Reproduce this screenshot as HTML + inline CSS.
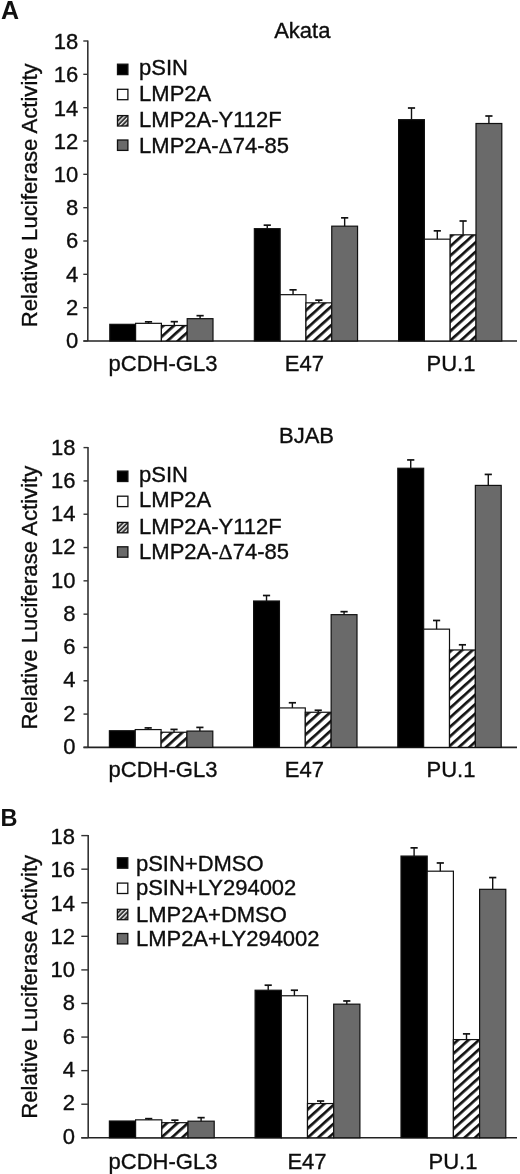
<!DOCTYPE html>
<html><head><meta charset="utf-8"><title>Luciferase activity</title>
<style>
html,body{margin:0;padding:0;background:#fff;width:520px;height:1174px;overflow:hidden}
svg{display:block}
.t{font-family:'Liberation Sans', Arial, Helvetica, sans-serif;font-size:22px;fill:#0d0d0d;stroke:#0d0d0d;stroke-width:0.35px}
.b{font-family:'Liberation Sans', Arial, Helvetica, sans-serif;font-weight:bold;fill:#111}
</style></head><body>
<svg width="520" height="1174" viewBox="0 0 520 1174">
<defs>
<pattern id="hatch" patternUnits="userSpaceOnUse" width="7.0" height="7.0" patternTransform="rotate(48)">
<rect width="7.0" height="7.0" fill="#fff"/><rect x="0" y="0" width="2.7" height="7.0" fill="#111"/>
</pattern>
<pattern id="hatchs" patternUnits="userSpaceOnUse" width="3.2" height="3.2" patternTransform="rotate(45)">
<rect width="3.2" height="3.2" fill="#333"/><rect x="0" y="0" width="1.3" height="3.2" fill="#eee"/>
</pattern>
</defs>
<rect width="520" height="1174" fill="#fff"/>
<line x1="87.8" y1="40.50" x2="87.8" y2="341.00" stroke="#333" stroke-width="1.6"/>
<line x1="83.5" y1="341.00" x2="517" y2="341.00" stroke="#222" stroke-width="1.6"/>
<line x1="83.3" y1="341.00" x2="87.8" y2="341.00" stroke="#333" stroke-width="1.4"/>
<text x="78.3" y="348.00" text-anchor="end" class="t">0</text>
<line x1="83.3" y1="307.67" x2="87.8" y2="307.67" stroke="#333" stroke-width="1.4"/>
<text x="78.3" y="314.79" text-anchor="end" class="t">2</text>
<line x1="83.3" y1="274.33" x2="87.8" y2="274.33" stroke="#333" stroke-width="1.4"/>
<text x="78.3" y="281.58" text-anchor="end" class="t">4</text>
<line x1="83.3" y1="241.00" x2="87.8" y2="241.00" stroke="#333" stroke-width="1.4"/>
<text x="78.3" y="248.37" text-anchor="end" class="t">6</text>
<line x1="83.3" y1="207.67" x2="87.8" y2="207.67" stroke="#333" stroke-width="1.4"/>
<text x="78.3" y="215.16" text-anchor="end" class="t">8</text>
<line x1="83.3" y1="174.33" x2="87.8" y2="174.33" stroke="#333" stroke-width="1.4"/>
<text x="78.3" y="181.94" text-anchor="end" class="t">10</text>
<line x1="83.3" y1="141.00" x2="87.8" y2="141.00" stroke="#333" stroke-width="1.4"/>
<text x="78.3" y="148.73" text-anchor="end" class="t">12</text>
<line x1="83.3" y1="107.67" x2="87.8" y2="107.67" stroke="#333" stroke-width="1.4"/>
<text x="78.3" y="115.52" text-anchor="end" class="t">14</text>
<line x1="83.3" y1="74.33" x2="87.8" y2="74.33" stroke="#333" stroke-width="1.4"/>
<text x="78.3" y="82.31" text-anchor="end" class="t">16</text>
<line x1="83.3" y1="41.00" x2="87.8" y2="41.00" stroke="#333" stroke-width="1.4"/>
<text x="78.3" y="49.10" text-anchor="end" class="t">18</text>
<text transform="translate(37.0,195.3) rotate(-90)" text-anchor="middle" class="t" style="font-size:22.2px">Relative Luciferase Activity</text>
<rect x="109.80" y="324.33" width="25.80" height="16.67" fill="#000" stroke="#111" stroke-width="1.2"/>
<rect x="135.60" y="323.33" width="25.80" height="17.67" fill="#fff" stroke="#111" stroke-width="1.2"/>
<line x1="148.50" y1="323.33" x2="148.50" y2="321.83" stroke="#111" stroke-width="1.4"/>
<line x1="144.90" y1="321.83" x2="152.10" y2="321.83" stroke="#111" stroke-width="1.7"/>
<rect x="161.40" y="325.50" width="25.80" height="15.50" fill="url(#hatch)" stroke="#111" stroke-width="1.2"/>
<line x1="174.30" y1="325.50" x2="174.30" y2="321.67" stroke="#111" stroke-width="1.4"/>
<line x1="170.70" y1="321.67" x2="177.90" y2="321.67" stroke="#111" stroke-width="1.7"/>
<rect x="187.20" y="318.67" width="25.80" height="22.33" fill="#6a6a6a" stroke="#111" stroke-width="1.2"/>
<line x1="200.10" y1="318.67" x2="200.10" y2="315.67" stroke="#111" stroke-width="1.4"/>
<line x1="196.50" y1="315.67" x2="203.70" y2="315.67" stroke="#111" stroke-width="1.7"/>
<rect x="254.35" y="228.67" width="25.80" height="112.33" fill="#000" stroke="#111" stroke-width="1.2"/>
<line x1="267.25" y1="228.67" x2="267.25" y2="225.17" stroke="#111" stroke-width="1.4"/>
<line x1="263.65" y1="225.17" x2="270.85" y2="225.17" stroke="#111" stroke-width="1.7"/>
<rect x="280.15" y="294.67" width="25.80" height="46.33" fill="#fff" stroke="#111" stroke-width="1.2"/>
<line x1="293.05" y1="294.67" x2="293.05" y2="289.83" stroke="#111" stroke-width="1.4"/>
<line x1="289.45" y1="289.83" x2="296.65" y2="289.83" stroke="#111" stroke-width="1.7"/>
<rect x="305.95" y="302.83" width="25.80" height="38.17" fill="url(#hatch)" stroke="#111" stroke-width="1.2"/>
<line x1="318.85" y1="302.83" x2="318.85" y2="300.17" stroke="#111" stroke-width="1.4"/>
<line x1="315.25" y1="300.17" x2="322.45" y2="300.17" stroke="#111" stroke-width="1.7"/>
<rect x="331.75" y="226.17" width="25.80" height="114.83" fill="#6a6a6a" stroke="#111" stroke-width="1.2"/>
<line x1="344.65" y1="226.17" x2="344.65" y2="217.83" stroke="#111" stroke-width="1.4"/>
<line x1="341.05" y1="217.83" x2="348.25" y2="217.83" stroke="#111" stroke-width="1.7"/>
<rect x="398.60" y="119.67" width="25.80" height="221.33" fill="#000" stroke="#111" stroke-width="1.2"/>
<line x1="411.50" y1="119.67" x2="411.50" y2="108.00" stroke="#111" stroke-width="1.4"/>
<line x1="407.90" y1="108.00" x2="415.10" y2="108.00" stroke="#111" stroke-width="1.7"/>
<rect x="424.40" y="239.17" width="25.80" height="101.83" fill="#fff" stroke="#111" stroke-width="1.2"/>
<line x1="437.30" y1="239.17" x2="437.30" y2="230.83" stroke="#111" stroke-width="1.4"/>
<line x1="433.70" y1="230.83" x2="440.90" y2="230.83" stroke="#111" stroke-width="1.7"/>
<rect x="450.20" y="234.83" width="25.80" height="106.17" fill="url(#hatch)" stroke="#111" stroke-width="1.2"/>
<line x1="463.10" y1="234.83" x2="463.10" y2="221.00" stroke="#111" stroke-width="1.4"/>
<line x1="459.50" y1="221.00" x2="466.70" y2="221.00" stroke="#111" stroke-width="1.7"/>
<rect x="476.00" y="123.50" width="25.80" height="217.50" fill="#6a6a6a" stroke="#111" stroke-width="1.2"/>
<line x1="488.90" y1="123.50" x2="488.90" y2="116.00" stroke="#111" stroke-width="1.4"/>
<line x1="485.30" y1="116.00" x2="492.50" y2="116.00" stroke="#111" stroke-width="1.7"/>
<text x="163" y="371" text-anchor="middle" class="t">pCDH-GL3</text>
<text x="304.4" y="371" text-anchor="middle" class="t">E47</text>
<text x="451" y="371" text-anchor="middle" class="t">PU.1</text>
<rect x="117.5" y="64.20" width="10.4" height="10.4" fill="#000" stroke="#111" stroke-width="1.3"/>
<text x="139.1" y="74.60" class="t">pSIN</text>
<rect x="117.5" y="89.30" width="10.4" height="10.4" fill="#fff" stroke="#111" stroke-width="1.3"/>
<text x="139.1" y="100.90" class="t">LMP2A</text>
<rect x="117.5" y="115.60" width="10.4" height="10.4" fill="url(#hatchs)" stroke="#111" stroke-width="1.3"/>
<text x="139.1" y="127.10" class="t">LMP2A-Y112F</text>
<rect x="117.5" y="140.00" width="10.4" height="10.4" fill="#6a6a6a" stroke="#111" stroke-width="1.3"/>
<text x="139.1" y="152.80" class="t">LMP2A-<tspan style="font-family:Liberation Serif">&#916;</tspan>74-85</text>
<text x="302.3" y="38.1" text-anchor="middle" class="t">Akata</text>
<text x="1.1" y="19.4" class="b" style="font-size:25px">A</text>
<line x1="88.0" y1="447.10" x2="88.0" y2="747.40" stroke="#333" stroke-width="1.6"/>
<line x1="83.5" y1="747.40" x2="517" y2="747.40" stroke="#222" stroke-width="1.6"/>
<line x1="83.5" y1="747.40" x2="88.0" y2="747.40" stroke="#333" stroke-width="1.4"/>
<text x="75.6" y="753.90" text-anchor="end" class="t">0</text>
<line x1="83.5" y1="714.09" x2="88.0" y2="714.09" stroke="#333" stroke-width="1.4"/>
<text x="75.6" y="720.64" text-anchor="end" class="t">2</text>
<line x1="83.5" y1="680.78" x2="88.0" y2="680.78" stroke="#333" stroke-width="1.4"/>
<text x="75.6" y="687.39" text-anchor="end" class="t">4</text>
<line x1="83.5" y1="647.47" x2="88.0" y2="647.47" stroke="#333" stroke-width="1.4"/>
<text x="75.6" y="654.13" text-anchor="end" class="t">6</text>
<line x1="83.5" y1="614.16" x2="88.0" y2="614.16" stroke="#333" stroke-width="1.4"/>
<text x="75.6" y="620.88" text-anchor="end" class="t">8</text>
<line x1="83.5" y1="580.84" x2="88.0" y2="580.84" stroke="#333" stroke-width="1.4"/>
<text x="75.6" y="587.62" text-anchor="end" class="t">10</text>
<line x1="83.5" y1="547.53" x2="88.0" y2="547.53" stroke="#333" stroke-width="1.4"/>
<text x="75.6" y="554.37" text-anchor="end" class="t">12</text>
<line x1="83.5" y1="514.22" x2="88.0" y2="514.22" stroke="#333" stroke-width="1.4"/>
<text x="75.6" y="521.11" text-anchor="end" class="t">14</text>
<line x1="83.5" y1="480.91" x2="88.0" y2="480.91" stroke="#333" stroke-width="1.4"/>
<text x="75.6" y="487.86" text-anchor="end" class="t">16</text>
<line x1="83.5" y1="447.60" x2="88.0" y2="447.60" stroke="#333" stroke-width="1.4"/>
<text x="75.6" y="454.60" text-anchor="end" class="t">18</text>
<text transform="translate(37.0,597.6) rotate(-90)" text-anchor="middle" class="t" style="font-size:22.2px">Relative Luciferase Activity</text>
<rect x="109.40" y="730.74" width="25.85" height="16.66" fill="#000" stroke="#111" stroke-width="1.2"/>
<rect x="135.25" y="729.58" width="25.85" height="17.82" fill="#fff" stroke="#111" stroke-width="1.2"/>
<line x1="148.18" y1="729.58" x2="148.18" y2="727.91" stroke="#111" stroke-width="1.4"/>
<line x1="144.58" y1="727.91" x2="151.78" y2="727.91" stroke="#111" stroke-width="1.7"/>
<rect x="161.10" y="732.24" width="25.85" height="15.16" fill="url(#hatch)" stroke="#111" stroke-width="1.2"/>
<line x1="174.03" y1="732.24" x2="174.03" y2="729.41" stroke="#111" stroke-width="1.4"/>
<line x1="170.43" y1="729.41" x2="177.63" y2="729.41" stroke="#111" stroke-width="1.7"/>
<rect x="186.95" y="731.08" width="25.85" height="16.32" fill="#6a6a6a" stroke="#111" stroke-width="1.2"/>
<line x1="199.88" y1="731.08" x2="199.88" y2="727.41" stroke="#111" stroke-width="1.4"/>
<line x1="196.28" y1="727.41" x2="203.48" y2="727.41" stroke="#111" stroke-width="1.7"/>
<rect x="253.60" y="601.00" width="25.85" height="146.40" fill="#000" stroke="#111" stroke-width="1.2"/>
<line x1="266.52" y1="601.00" x2="266.52" y2="595.50" stroke="#111" stroke-width="1.4"/>
<line x1="262.92" y1="595.50" x2="270.12" y2="595.50" stroke="#111" stroke-width="1.7"/>
<rect x="279.45" y="707.93" width="25.85" height="39.47" fill="#fff" stroke="#111" stroke-width="1.2"/>
<line x1="292.38" y1="707.93" x2="292.38" y2="702.76" stroke="#111" stroke-width="1.4"/>
<line x1="288.77" y1="702.76" x2="295.98" y2="702.76" stroke="#111" stroke-width="1.7"/>
<rect x="305.30" y="712.26" width="25.85" height="35.14" fill="url(#hatch)" stroke="#111" stroke-width="1.2"/>
<line x1="318.23" y1="712.26" x2="318.23" y2="710.26" stroke="#111" stroke-width="1.4"/>
<line x1="314.62" y1="710.26" x2="321.83" y2="710.26" stroke="#111" stroke-width="1.7"/>
<rect x="331.15" y="614.66" width="25.85" height="132.74" fill="#6a6a6a" stroke="#111" stroke-width="1.2"/>
<line x1="344.07" y1="614.66" x2="344.07" y2="611.66" stroke="#111" stroke-width="1.4"/>
<line x1="340.47" y1="611.66" x2="347.68" y2="611.66" stroke="#111" stroke-width="1.7"/>
<rect x="397.80" y="468.25" width="25.85" height="279.15" fill="#000" stroke="#111" stroke-width="1.2"/>
<line x1="410.73" y1="468.25" x2="410.73" y2="459.93" stroke="#111" stroke-width="1.4"/>
<line x1="407.12" y1="459.93" x2="414.33" y2="459.93" stroke="#111" stroke-width="1.7"/>
<rect x="423.65" y="629.15" width="25.85" height="118.25" fill="#fff" stroke="#111" stroke-width="1.2"/>
<line x1="436.58" y1="629.15" x2="436.58" y2="620.48" stroke="#111" stroke-width="1.4"/>
<line x1="432.98" y1="620.48" x2="440.18" y2="620.48" stroke="#111" stroke-width="1.7"/>
<rect x="449.50" y="649.97" width="25.85" height="97.43" fill="url(#hatch)" stroke="#111" stroke-width="1.2"/>
<line x1="462.43" y1="649.97" x2="462.43" y2="644.80" stroke="#111" stroke-width="1.4"/>
<line x1="458.82" y1="644.80" x2="466.03" y2="644.80" stroke="#111" stroke-width="1.7"/>
<rect x="475.35" y="485.41" width="25.85" height="261.99" fill="#6a6a6a" stroke="#111" stroke-width="1.2"/>
<line x1="488.28" y1="485.41" x2="488.28" y2="474.42" stroke="#111" stroke-width="1.4"/>
<line x1="484.68" y1="474.42" x2="491.88" y2="474.42" stroke="#111" stroke-width="1.7"/>
<text x="163" y="777" text-anchor="middle" class="t">pCDH-GL3</text>
<text x="304.4" y="777" text-anchor="middle" class="t">E47</text>
<text x="451" y="777" text-anchor="middle" class="t">PU.1</text>
<rect x="117.5" y="471.10" width="10.4" height="10.4" fill="#000" stroke="#111" stroke-width="1.3"/>
<text x="139.1" y="481.60" class="t">pSIN</text>
<rect x="117.5" y="496.20" width="10.4" height="10.4" fill="#fff" stroke="#111" stroke-width="1.3"/>
<text x="139.1" y="507.40" class="t">LMP2A</text>
<rect x="117.5" y="522.40" width="10.4" height="10.4" fill="url(#hatchs)" stroke="#111" stroke-width="1.3"/>
<text x="139.1" y="533.90" class="t">LMP2A-Y112F</text>
<rect x="117.5" y="546.80" width="10.4" height="10.4" fill="#6a6a6a" stroke="#111" stroke-width="1.3"/>
<text x="139.1" y="559.20" class="t">LMP2A-<tspan style="font-family:Liberation Serif">&#916;</tspan>74-85</text>
<text x="306.5" y="442.8" text-anchor="middle" class="t">BJAB</text>
<line x1="88.2" y1="835.10" x2="88.2" y2="1137.80" stroke="#333" stroke-width="1.6"/>
<line x1="81.3" y1="1137.80" x2="517" y2="1137.80" stroke="#222" stroke-width="1.6"/>
<line x1="81.3" y1="1137.80" x2="88.2" y2="1137.80" stroke="#333" stroke-width="1.4"/>
<text x="75.1" y="1143.50" text-anchor="end" class="t">0</text>
<line x1="81.3" y1="1104.22" x2="88.2" y2="1104.22" stroke="#333" stroke-width="1.4"/>
<text x="75.1" y="1110.22" text-anchor="end" class="t">2</text>
<line x1="81.3" y1="1070.64" x2="88.2" y2="1070.64" stroke="#333" stroke-width="1.4"/>
<text x="75.1" y="1076.94" text-anchor="end" class="t">4</text>
<line x1="81.3" y1="1037.07" x2="88.2" y2="1037.07" stroke="#333" stroke-width="1.4"/>
<text x="75.1" y="1043.67" text-anchor="end" class="t">6</text>
<line x1="81.3" y1="1003.49" x2="88.2" y2="1003.49" stroke="#333" stroke-width="1.4"/>
<text x="75.1" y="1010.39" text-anchor="end" class="t">8</text>
<line x1="81.3" y1="969.91" x2="88.2" y2="969.91" stroke="#333" stroke-width="1.4"/>
<text x="75.1" y="977.11" text-anchor="end" class="t">10</text>
<line x1="81.3" y1="936.33" x2="88.2" y2="936.33" stroke="#333" stroke-width="1.4"/>
<text x="75.1" y="943.83" text-anchor="end" class="t">12</text>
<line x1="81.3" y1="902.76" x2="88.2" y2="902.76" stroke="#333" stroke-width="1.4"/>
<text x="75.1" y="910.56" text-anchor="end" class="t">14</text>
<line x1="81.3" y1="869.18" x2="88.2" y2="869.18" stroke="#333" stroke-width="1.4"/>
<text x="75.1" y="877.28" text-anchor="end" class="t">16</text>
<line x1="81.3" y1="835.60" x2="88.2" y2="835.60" stroke="#333" stroke-width="1.4"/>
<text x="75.1" y="844.00" text-anchor="end" class="t">18</text>
<text transform="translate(37.0,986.8) rotate(-90)" text-anchor="middle" class="t" style="font-size:22.2px">Relative Luciferase Activity</text>
<rect x="109.40" y="1121.01" width="26.20" height="16.79" fill="#000" stroke="#111" stroke-width="1.2"/>
<rect x="135.60" y="1119.84" width="26.20" height="17.96" fill="#fff" stroke="#111" stroke-width="1.2"/>
<line x1="148.70" y1="1119.84" x2="148.70" y2="1118.66" stroke="#111" stroke-width="1.4"/>
<line x1="145.10" y1="1118.66" x2="152.30" y2="1118.66" stroke="#111" stroke-width="1.7"/>
<rect x="161.80" y="1122.69" width="26.20" height="15.11" fill="url(#hatch)" stroke="#111" stroke-width="1.2"/>
<line x1="174.90" y1="1122.69" x2="174.90" y2="1120.17" stroke="#111" stroke-width="1.4"/>
<line x1="171.30" y1="1120.17" x2="178.50" y2="1120.17" stroke="#111" stroke-width="1.7"/>
<rect x="188.00" y="1121.18" width="26.20" height="16.62" fill="#6a6a6a" stroke="#111" stroke-width="1.2"/>
<line x1="201.10" y1="1121.18" x2="201.10" y2="1117.65" stroke="#111" stroke-width="1.4"/>
<line x1="197.50" y1="1117.65" x2="204.70" y2="1117.65" stroke="#111" stroke-width="1.7"/>
<rect x="255.10" y="990.23" width="26.20" height="147.57" fill="#000" stroke="#111" stroke-width="1.2"/>
<line x1="268.20" y1="990.23" x2="268.20" y2="985.19" stroke="#111" stroke-width="1.4"/>
<line x1="264.60" y1="985.19" x2="271.80" y2="985.19" stroke="#111" stroke-width="1.7"/>
<rect x="281.30" y="995.77" width="26.20" height="142.03" fill="#fff" stroke="#111" stroke-width="1.2"/>
<line x1="294.40" y1="995.77" x2="294.40" y2="990.23" stroke="#111" stroke-width="1.4"/>
<line x1="290.80" y1="990.23" x2="298.00" y2="990.23" stroke="#111" stroke-width="1.7"/>
<rect x="307.50" y="1103.55" width="26.20" height="34.25" fill="url(#hatch)" stroke="#111" stroke-width="1.2"/>
<line x1="320.60" y1="1103.55" x2="320.60" y2="1101.03" stroke="#111" stroke-width="1.4"/>
<line x1="317.00" y1="1101.03" x2="324.20" y2="1101.03" stroke="#111" stroke-width="1.7"/>
<rect x="333.70" y="1004.16" width="26.20" height="133.64" fill="#6a6a6a" stroke="#111" stroke-width="1.2"/>
<line x1="346.80" y1="1004.16" x2="346.80" y2="1000.97" stroke="#111" stroke-width="1.4"/>
<line x1="343.20" y1="1000.97" x2="350.40" y2="1000.97" stroke="#111" stroke-width="1.7"/>
<rect x="401.00" y="856.08" width="26.20" height="281.72" fill="#000" stroke="#111" stroke-width="1.2"/>
<line x1="414.10" y1="856.08" x2="414.10" y2="847.86" stroke="#111" stroke-width="1.4"/>
<line x1="410.50" y1="847.86" x2="417.70" y2="847.86" stroke="#111" stroke-width="1.7"/>
<rect x="427.20" y="871.19" width="26.20" height="266.61" fill="#fff" stroke="#111" stroke-width="1.2"/>
<line x1="440.30" y1="871.19" x2="440.30" y2="862.97" stroke="#111" stroke-width="1.4"/>
<line x1="436.70" y1="862.97" x2="443.90" y2="862.97" stroke="#111" stroke-width="1.7"/>
<rect x="453.40" y="1039.59" width="26.20" height="98.21" fill="url(#hatch)" stroke="#111" stroke-width="1.2"/>
<line x1="466.50" y1="1039.59" x2="466.50" y2="1033.88" stroke="#111" stroke-width="1.4"/>
<line x1="462.90" y1="1033.88" x2="470.10" y2="1033.88" stroke="#111" stroke-width="1.7"/>
<rect x="479.60" y="889.32" width="26.20" height="248.48" fill="#6a6a6a" stroke="#111" stroke-width="1.2"/>
<line x1="492.70" y1="889.32" x2="492.70" y2="877.57" stroke="#111" stroke-width="1.4"/>
<line x1="489.10" y1="877.57" x2="496.30" y2="877.57" stroke="#111" stroke-width="1.7"/>
<text x="163" y="1168.5" text-anchor="middle" class="t">pCDH-GL3</text>
<text x="307" y="1168.5" text-anchor="middle" class="t">E47</text>
<text x="453" y="1168.5" text-anchor="middle" class="t">PU.1</text>
<rect x="117.4" y="857.80" width="10.4" height="10.4" fill="#000" stroke="#111" stroke-width="1.3"/>
<text x="135.9" y="871.00" class="t">pSIN+DMSO</text>
<rect x="117.4" y="883.10" width="10.4" height="10.4" fill="#fff" stroke="#111" stroke-width="1.3"/>
<text x="135.9" y="894.60" class="t">pSIN+LY294002</text>
<rect x="117.4" y="909.30" width="10.4" height="10.4" fill="url(#hatchs)" stroke="#111" stroke-width="1.3"/>
<text x="135.9" y="921.60" class="t">LMP2A+DMSO</text>
<rect x="117.4" y="933.50" width="10.4" height="10.4" fill="#6a6a6a" stroke="#111" stroke-width="1.3"/>
<text x="135.9" y="945.90" class="t">LMP2A+LY294002</text>
<text x="0.6" y="826" class="b" style="font-size:23.5px">B</text>
</svg>
</body></html>
